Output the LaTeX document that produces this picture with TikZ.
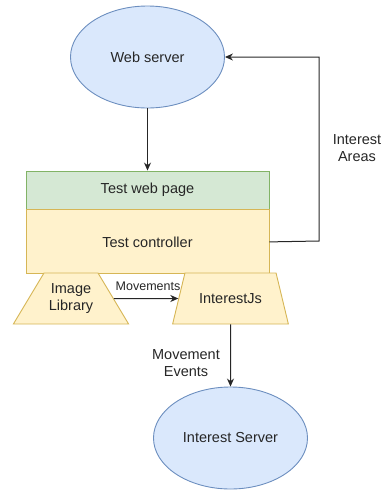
\documentclass[tikz,border=0pt]{standalone}
\usepackage{fontspec}
\setmainfont{Liberation Sans}
\usetikzlibrary{positioning, calc, arrows.meta, shapes.geometric}
\definecolor{srvfill}{HTML}{DAE8FC}
\definecolor{srvline}{HTML}{6C8EBF}
\definecolor{pagefill}{HTML}{D5E8D4}
\definecolor{pageline}{HTML}{82B366}
\definecolor{ctrlfill}{HTML}{FFF2CC}
\definecolor{ctrlline}{HTML}{D6B656}
\tikzset{server/.style={ellipse, draw=srvline, fill=srvfill, line width=0.9pt, minimum width=154pt, minimum height=102pt, inner sep=0pt}}
\tikzset{page/.style={rectangle, draw=pageline, fill=pagefill, line width=0.9pt, minimum width=243pt, minimum height=38pt, inner sep=0pt}}
\tikzset{ctrl/.style={rectangle, draw=ctrlline, fill=ctrlfill, line width=0.9pt, minimum width=243pt, minimum height=64pt, inner sep=0pt}}
\tikzset{lib/.style={trapezium, trapezium angle=50, trapezium stretches=true, draw=ctrlline, fill=ctrlfill, line width=0.9pt, minimum width=116pt, minimum height=51pt, inner sep=0pt, align=center}}
\tikzset{flow/.style={-{Stealth[length=8pt, width=7pt]}, line width=1pt, black!85}}
\tikzset{every node/.append style={font=\fontsize{14.5}{17}\selectfont, text=black!85}}

\begin{document}
\begin{tikzpicture}[x=1pt, y=-1pt]
      \useasboundingbox (0,0) rectangle (386,491);

      \node[server] (ws) at (147.5,57) {Web server};
      \node[page] (twp) at (147.5,190) {Test web page};
      \node[ctrl] (tc) [below=0pt of twp] {Test controller};

      \node[lib] (il) at (71,298.5) {Image\\Library};
      \node[lib] (ijs) at (230.5,298.5) {InterestJs};

      \node[server] (is) at (230.5,438) {Interest Server};

      \draw[flow] (ws) -- (twp);

      \coordinate (turn) at (319,241);
      \draw[flow] (tc.east) -- (turn) |- (ws.east);
      \node[align=center] (ia) at (357,148) {Interest\\Areas};

      \draw[flow] (il) -- (ijs);
      \node[font=\fontsize{12.5}{14}\selectfont] (mv) at (148,286) {Movements};

      \draw[flow] (ijs) -- (is);
      \node[align=center] (me) at (186,363) {Movement\\Events};
    \end{tikzpicture}
\end{document}
